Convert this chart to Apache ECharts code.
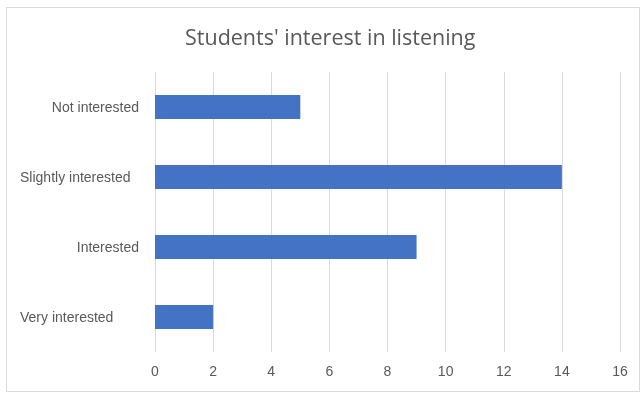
<!DOCTYPE html>
<html><head><meta charset="utf-8">
<script src="https://cdn.jsdelivr.net/npm/echarts@6/dist/echarts.min.js"></script>
<style>html,body{margin:0;padding:0;background:#fff}#c{width:644px;height:394px}</style>
</head><body><div id="c"></div>
<script>
const categories = ['Very interested', 'Interested', 'Slightly interested', 'Not interested'];
const values = [2, 9, 14, 5];
const titleText = "Students' interest in listening";
const xMin = 0, xMax = 16, xStep = 2;
const leftAligned = ['Very interested', 'Slightly interested'];

const chart = echarts.init(document.getElementById('c'), null, {renderer: 'canvas'});
chart.setOption({
  animation: false,
  backgroundColor: '#fff',
  textStyle: {fontFamily: 'Liberation Sans, Open Sans, sans-serif'},
  title: {
    text: titleText, left: 180, top: 23,
    textStyle: {fontSize: 21.5, fontWeight: 'normal', color: '#595959', fontFamily: 'Open Sans, Liberation Sans, sans-serif'}
  },
  graphic: [{
    type: 'rect', shape: {x: 6.5, y: 7.5, width: 633, height: 384},
    style: {fill: 'none', stroke: '#d9d9d9', lineWidth: 1}, silent: true
  }],
  grid: {left: 155, right: 24, top: 72, bottom: 42},
  xAxis: {
    type: 'value', min: xMin, max: xMax, interval: xStep,
    axisLine: {show: false}, axisTick: {show: false},
    splitLine: {lineStyle: {color: '#d9d9d9', width: 1}},
    axisLabel: {color: '#595959', fontSize: 14, margin: 13}
  },
  yAxis: {
    type: 'category', data: categories,
    axisLine: {show: false}, axisTick: {show: false},
    axisLabel: {
      color: '#595959', fontSize: 14, margin: 135, align: 'left',
      formatter: v => leftAligned.includes(v) ? '{l|' + v + '}' : '{r|' + v + '}',
      rich: {
        l: {width: 119, align: 'left', color: '#595959', fontSize: 14, padding: [3, 0, 0, 0]},
        r: {width: 119, align: 'right', color: '#595959', fontSize: 14, padding: [3, 0, 0, 0]}
      }
    }
  },
  series: [{
    type: 'bar', data: values, barWidth: 24,
    itemStyle: {color: '#4472c4'}
  }]
});
</script></body></html>
